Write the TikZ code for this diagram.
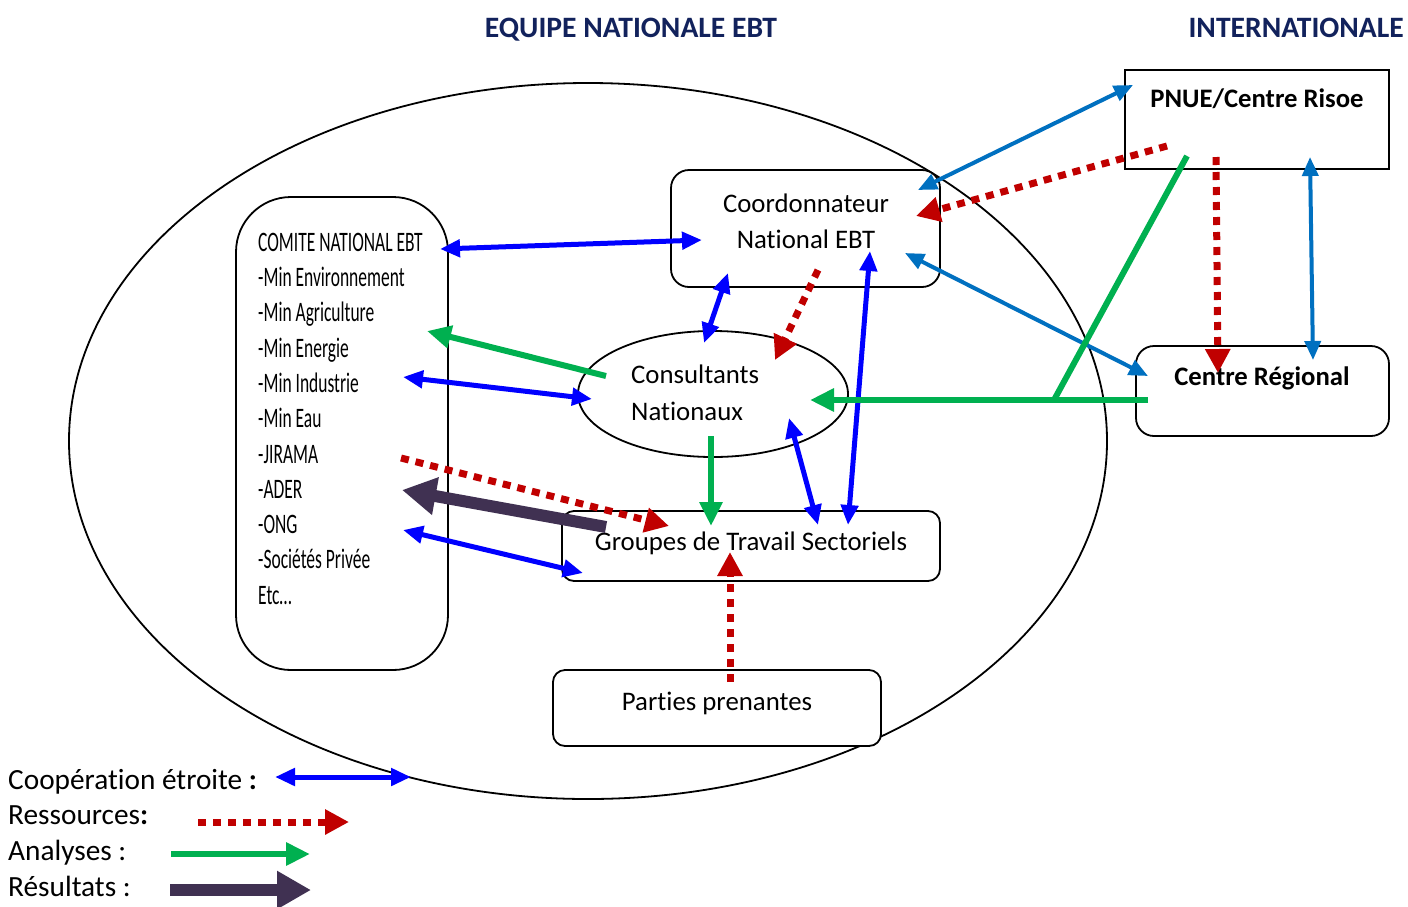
\documentclass[tikz,border=0pt]{standalone}
\usepackage{fontspec}
\setmainfont[Ligatures=NoCommon]{Carlito}
\newfontfamily\narrowfont[FakeStretch=0.62,Ligatures=NoCommon]{Carlito}
\usetikzlibrary{arrows.meta,shapes.geometric}
\definecolor{coopblue}{RGB}{0,0,255}
\definecolor{steelblue}{RGB}{0,112,192}
\definecolor{resred}{RGB}{192,0,0}
\definecolor{anagreen}{RGB}{0,176,80}
\definecolor{respurple}{RGB}{64,49,82}
\definecolor{headnavy}{RGB}{18,34,92}
\tikzset{
  box/.style={draw=black, line width=1.8pt, fill=white, rounded corners=#1},
  box/.default=14pt,
  txt/.style={anchor=base, inner sep=0pt, font=\fontsize{26.8}{30}\selectfont},
  btxt/.style={anchor=base, inner sep=0pt, font=\fontsize{26.7}{30}\selectfont\bfseries},
  listtxt/.style={anchor=base west, inner sep=0pt, font=\narrowfont\fontsize{28.2}{32}\selectfont},
  legtxt/.style={anchor=base west, inner sep=0pt, font=\fontsize{29.3}{32}\selectfont},
  headtxt/.style={anchor=base, inner sep=0pt, text=headnavy, font=\fontsize{29.6}{32}\selectfont\bfseries},
  coop/.style={draw=coopblue, line width=5pt, {Triangle[length=20pt,width=17pt]}-{Triangle[length=20pt,width=17pt]}},
  steel/.style={draw=steelblue, line width=4pt, {Triangle[length=19pt,width=16pt]}-{Triangle[length=19pt,width=16pt]}},
  ressource/.style={draw=resred, line width=7pt, dash pattern=on 8pt off 7pt, -{Triangle[length=24pt,width=24pt]}},
  analyse/.style={draw=anagreen, line width=6pt, -{Triangle[length=24pt,width=22pt]}},
  analyseline/.style={draw=anagreen, line width=6pt},
  resultat/.style={draw=respurple, line width=12pt, -{Triangle[length=34pt,width=36pt]}}
}
\begin{document}
\begin{tikzpicture}[x=1pt,y=-1pt]
\useasboundingbox[fill=white] (0,0) rectangle (1408,906);

% national team ellipse
\draw[line width=1.8pt] (588,441) ellipse [x radius=519, y radius=358];

% headings
\node[headtxt] (hnat) at (631,37) {EQUIPE NATIONALE EBT};
\node[headtxt, anchor=base east] (hint) at (1404,37) {INTERNATIONALE};

% boxes
\node[box=55pt, minimum width=212pt, minimum height=473pt] (comite) at (342,433.5) {};
\node[box=18pt, minimum width=269pt, minimum height=117pt] (coord) at (805.5,228.5) {};
\node[draw=black, line width=1.8pt, fill=white, ellipse, minimum width=270pt, minimum height=126pt, inner sep=0pt] (consult) at (713,394) {};
\node[box=12pt, minimum width=378pt, minimum height=70pt] (groupes) at (751,546) {};
\node[box=12pt, minimum width=328pt, minimum height=76pt] (parties) at (717,708) {};
\node[draw=black, line width=1.8pt, fill=white, minimum width=264pt, minimum height=99pt] (pnue) at (1257,119.5) {};
\node[box=18pt, minimum width=253pt, minimum height=90pt] (regional) at (1262.5,391) {};

% box texts
\node[txt] (coordA) at (806,212) {Coordonnateur};
\node[txt] (coordB) at (806,248) {National EBT};
\node[txt, anchor=base west] (consA) at (631,383) {Consultants};
\node[txt, anchor=base west] (consB) at (631,420) {Nationaux};
\node[txt] (grpT) at (751,550) {Groupes de Travail Sectoriels};
\node[txt] (partT) at (717,710) {Parties prenantes};
\node[btxt] (pnueT) at (1257,107) {PNUE/Centre Risoe};
\node[btxt] (regT) at (1262,385) {Centre Régional};

% committee members
\node[listtxt] (l1) at (258,251) {COMITE NATIONAL EBT};
\node[listtxt] (l2) at (258,286) {-Min Environnement};
\node[listtxt] (l3) at (258,321.5) {-Min Agriculture};
\node[listtxt] (l4) at (258,357) {-Min Energie};
\node[listtxt] (l5) at (258,392) {-Min Industrie};
\node[listtxt] (l6) at (258,427.5) {-Min Eau};
\node[listtxt] (l7) at (258,463) {-JIRAMA};
\node[listtxt] (l8) at (258,498) {-ADER};
\node[listtxt] (l9) at (258,533) {-ONG};
\node[listtxt] (l10) at (258,568.5) {-Sociétés Privée};
\node[listtxt] (l11) at (258,604) {Etc\dots};

% connector end points
\coordinate (comiteA) at (440,249);
\coordinate (coordA1) at (702,240);
\coordinate (consG) at (606,376);
\coordinate (comiteG) at (427,331);
\coordinate (comiteB) at (403,377);
\coordinate (consB1) at (592,399);
\coordinate (comiteR) at (401,458);
\coordinate (grpR) at (669,526);
\coordinate (grpP) at (606,527);
\coordinate (comiteP) at (402,490);
\coordinate (comiteC) at (403,530);
\coordinate (grpC) at (583,573);
\coordinate (coordD) at (728,273);
\coordinate (consD) at (704,343);
\coordinate (coordR) at (818,270);
\coordinate (consR) at (775,360);
\coordinate (coordE) at (870,251);
\coordinate (grpE) at (848,525);
\coordinate (coordF) at (918,190);
\coordinate (pnueF) at (1133,85);
\coordinate (pnueR) at (1167,146);
\coordinate (coordRR) at (916,216);
\coordinate (coordH) at (905,253);
\coordinate (regH) at (1148,376);
\coordinate (pnueG) at (1187,156);
\coordinate (joinG) at (1054,400);
\coordinate (regG) at (1148,400);
\coordinate (consG2) at (810,400);
\coordinate (pnueR2) at (1216,157);
\coordinate (regR2) at (1218,373);
\coordinate (pnueS) at (1310,157);
\coordinate (regS) at (1313,360);
\coordinate (consV) at (711,436);
\coordinate (grpV) at (711,526);
\coordinate (consW) at (789,418);
\coordinate (grpW) at (818,525);
\coordinate (partR) at (730,682);
\coordinate (grpRR) at (730,552);

% connectors
\draw[coop] (comiteA) -- (coordA1);
\draw[analyse] (consG) -- (comiteG);
\draw[coop] (comiteB) -- (consB1);
\draw[ressource] (comiteR) -- (grpR);
\draw[resultat] (grpP) -- (comiteP);
\draw[coop] (comiteC) -- (grpC);
\draw[coop] (coordD) -- (consD);
\draw[ressource] (coordR) -- (consR);
\draw[coop] (coordE) -- (grpE);
\draw[steel] (coordF) -- (pnueF);
\draw[ressource] (pnueR) -- (coordRR);
\draw[steel] (coordH) -- (regH);
\draw[analyseline] (pnueG) -- (joinG);
\draw[analyse] (regG) -- (consG2);
\draw[ressource] (pnueR2) -- (regR2);
\draw[steel] (pnueS) -- (regS);
\draw[analyse] (consV) -- (grpV);
\draw[coop] (consW) -- (grpW);
\draw[ressource] (partR) -- (grpRR);

% legend
\node[legtxt] (legA) at (8,789) {Coopération étroite \textbf{:}};
\node[legtxt] (legB) at (8,824) {Ressources\textbf{:}};
\node[legtxt] (legC) at (8,860) {Analyses :};
\node[legtxt] (legD) at (8,896) {Résultats :};
\coordinate (kA1) at (275,777);
\coordinate (kA2) at (411,777);
\coordinate (kB1) at (198,822);
\coordinate (kB2) at (349,822);
\coordinate (kC1) at (171,854);
\coordinate (kC2) at (310,854);
\coordinate (kD1) at (170,890);
\coordinate (kD2) at (311,890);
\draw[coop] (kA1) -- (kA2);
\draw[ressource] (kB1) -- (kB2);
\draw[analyse] (kC1) -- (kC2);
\draw[resultat] (kD1) -- (kD2);
\end{tikzpicture}
\end{document}
